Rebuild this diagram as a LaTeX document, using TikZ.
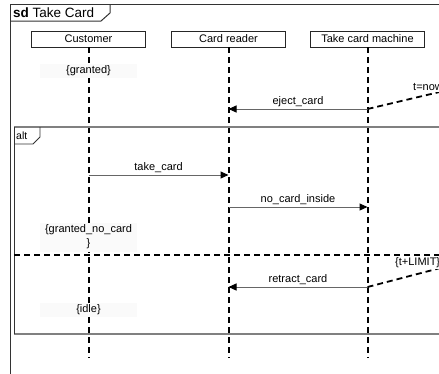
\documentclass[tikz,border=0pt]{standalone}
\usepackage{fontspec}
\setmainfont{Liberation Sans}
\usetikzlibrary{arrows.meta}
\tikzset{
  lbl/.style={font=\fontsize{11}{13}\selectfont, inner sep=1pt},
  headbox/.style={draw=black!85, line width=0.9pt, minimum width=114pt, minimum height=16pt, inner sep=0pt, font=\fontsize{11}{13}\selectfont},
  lifeline/.style={line width=2pt, dash pattern=on 6pt off 4pt},
  msg/.style={draw=black!60, line width=1pt, -{Triangle[length=8pt,width=7pt,color=black]}},
  constraint/.style={fill=black!2, draw=none, minimum width=97pt, inner sep=0pt, font=\fontsize{11}{14}\selectfont, align=center},
  timeline/.style={line width=1.8pt, dash pattern=on 6pt off 4pt},
  outerframe/.style={draw=black!80, line width=1pt},
  altline/.style={draw=black!50, line width=1.5pt},
}
\begin{document}
\begin{tikzpicture}[x=1pt,y=-1pt]
\useasboundingbox (0,0) rectangle (439,373);
\clip (0,0) rectangle (439,373);
\fill[white] (0,0) rectangle (439,373);

% lifeline heads
\node[headbox] (cust) at (88.5,39) {Customer};
\node[headbox] (cr) at (228.5,39) {Card reader};
\node[headbox] (tcm) at (367.5,39) {Take card machine};

% lifeline ends
\coordinate (custE) at (88.5,358);
\coordinate (crE) at (228.5,358);
\coordinate (tcmE) at (367.5,358);

\draw[lifeline] (cust.south) -- (custE);
\draw[lifeline] (cr.south) -- (crE);
\draw[lifeline] (tcm.south) -- (tcmE);

% outer frame
\draw[outerframe] (10,385) -- (10,4) -- (450,4);
\draw[outerframe] (10,21) -- (101,21) -- (110,13) -- (110,4);
\node[anchor=base west, inner sep=0pt, font=\fontsize{13.5}{15}\selectfont] (title) at (13,17.5) {\textbf{sd} Take Card};

% alt frame
\draw[altline] (14,127) -- (450,127);
\draw[altline] (14,334) -- (450,334);
\draw[draw=black!80, line width=1pt] (14,127) -- (14,334);
\draw[draw=black!80, line width=0.9pt] (14,144) -- (33,144) -- (40,137) -- (40,127);
\node[anchor=base west, inner sep=0pt, font=\fontsize{10.5}{12}\selectfont] (altlbl) at (16,139) {alt};

% separator
\coordinate (sepL) at (14,255);
\coordinate (sepR) at (450,255);
\draw[timeline, line width=1.8pt] (sepL) -- (sepR);

% constraints
\node[constraint, minimum height=14pt] (c1) at (88.5,71) {\{granted\}};
\node[constraint, minimum height=29pt] (c2) at (88.5,237) {\{granted\_no\_card\\\}};
\node[constraint, minimum height=14pt] (c3) at (88.5,310) {\{idle\}};

% message endpoints
\coordinate (m1s) at (367.5,109);
\coordinate (m1e) at (228.5,109);
\coordinate (m2s) at (88.5,175);
\coordinate (m2e) at (228.5,175);
\coordinate (m3s) at (228.5,207);
\coordinate (m3e) at (367.5,207);
\coordinate (m4s) at (367.5,287);
\coordinate (m4e) at (228.5,287);

\draw[msg] (m1s) -- node[lbl, above=1pt] {eject\_card} (m1e);
\draw[msg] (m2s) -- node[lbl, above=1pt] {take\_card} (m2e);
\draw[msg] (m3s) -- node[lbl, above=1pt] {no\_card\_inside} (m3e);
\draw[msg] (m4s) -- node[lbl, above=1pt] {retract\_card} (m4e);

% timing observations
\coordinate (t1) at (448,90);
\coordinate (t2) at (448,266);
\draw[timeline] (m1s) -- (t1);
\draw[timeline] (m4s) -- (t2);
\node[lbl, anchor=west, fill=white] (tnow) at (412,87) {t=now};
\node[lbl, anchor=west, fill=white] (tlim) at (394,263) {\{t+LIMIT\}};
\end{tikzpicture}
\end{document}
